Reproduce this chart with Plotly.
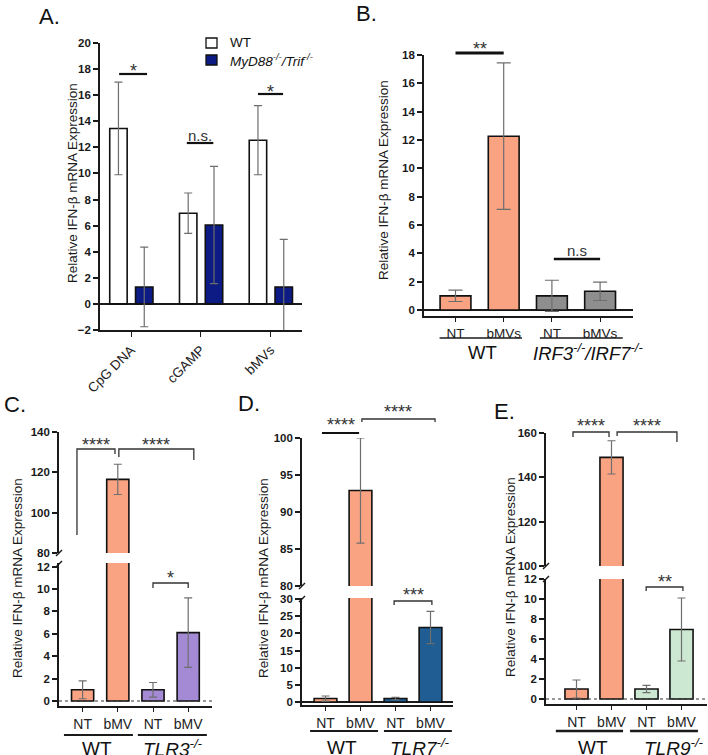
import plotly.graph_objects as go

# ---------------- data ----------------
A_categories = ["CpG DNA", "cGAMP", "bMVs"]
A_series = ["WT", "<i>MyD88<sup>-/-</sup>/Trif<sup>-/-</sup></i>"]
A_wt = [13.45, 6.95, 12.55]
A_wt_err = [3.55, 1.55, 2.65]
A_ko = [1.3, 6.05, 1.3]
A_ko_err = [3.05, 4.5, 3.65]
A_sig = ["*", "n.s.", "*"]

B_labels = ["NT", "bMVs", "NT", "bMVs"]
B_groups = ["WT", "<i>IRF3<sup>-/-</sup>/IRF7<sup>-/-</sup></i>"]
B_values = [1.0, 12.27, 1.0, 1.32]
B_err = [0.4, 5.17, 1.1, 0.65]
B_sig = ["**", "n.s"]

C_labels = ["NT", "bMV", "NT", "bMV"]
C_groups = ["WT", "<i>TLR3<sup>-/-</sup></i>"]
C_values = [1.0, 116.5, 1.0, 6.1]
C_err = [0.8, 7.5, 0.65, 3.1]
C_sig = ["****", "****", "*"]

D_labels = ["NT", "bMV", "NT", "bMV"]
D_groups = ["WT", "<i>TLR7<sup>-/-</sup></i>"]
D_values = [1.0, 92.9, 1.0, 21.7]
D_err = [0.75, 7.1, 0.35, 4.7]
D_sig = ["****", "****", "***"]

E_labels = ["NT", "bMV", "NT", "bMV"]
E_groups = ["WT", "<i>TLR9<sup>-/-</sup></i>"]
E_values = [1.0, 149.0, 1.0, 6.95]
E_err = [0.9, 7.5, 0.37, 3.15]
E_sig = ["****", "****", "**"]

YTITLE = "Relative IFN-β mRNA Expression"

# ---------------- style ----------------
W, H = 708, 755
FONT = "Liberation Sans, Arial, sans-serif"
LINE = "#1a1a1a"
ERR = "#6e6e6e"
ORANGE = "#F9A382"
NAVY = "#0D1B85"
GRAY = "#8E8E8E"
PURPLE = "#A48AD4"
BLUE = "#1F5D92"
GREEN = "#CDE8D2"
STAR = 18
STAR_SHIFT = 0.08 * STAR

layout = dict(width=W, height=H, margin=dict(l=0, r=0, t=0, b=0, pad=0),
              paper_bgcolor="white", plot_bgcolor="white",
              showlegend=False, barmode="overlay", autosize=False,
              font=dict(family=FONT, color=LINE))
shapes, annots, traces = [], [], []


def ax_key(ref):
    return ref[0] + "axis" + ref[1:]


def pxy(y):
    return 1 - y / H


def make_x(ref, yanchor, l, r, c0, step, ticktext, angle=0, ticklen=4,
           size=14):
    layout[ax_key(ref)] = dict(
        domain=[l / W, r / W], range=[(l - c0) / step, (r - c0) / step],
        anchor=yanchor, showline=True, linecolor=LINE, linewidth=1.6,
        ticks="outside", ticklen=ticklen, tickwidth=1.3, tickcolor=LINE,
        tickvals=list(range(len(ticktext))), ticktext=ticktext,
        tickangle=angle, tickfont=dict(family=FONT, size=size, color="#222"),
        showgrid=False, zeroline=False, fixedrange=True, automargin=False)


def make_y(ref, xanchor, b, t, lo, hi, dtick, zeroline=False):
    layout[ax_key(ref)] = dict(
        domain=[pxy(b), pxy(t)], range=[lo, hi], anchor=xanchor,
        tick0=0, dtick=dtick, showline=True, linecolor=LINE, linewidth=1.6,
        ticks="outside", ticklen=5, tickwidth=1.5, tickcolor=LINE,
        tickfont=dict(family=FONT, size=11.5, color=LINE, weight="bold"),
        showgrid=False, zeroline=zeroline, zerolinecolor=LINE,
        zerolinewidth=1.5, fixedrange=True, automargin=False)


def bar(xref, yref, values, err, colors, width, cap, offset=None):
    return go.Bar(x=list(range(len(values))), y=values, width=width,
                  offset=offset,
                  marker=dict(color=colors, line=dict(color="#111", width=1.6)),
                  error_y=dict(type="data", array=err, color=ERR,
                               thickness=1.2, width=cap),
                  xaxis=xref, yaxis=yref, showlegend=False, hoverinfo="skip")


def bracket(xref, x0, x1, top, leg0, leg1, text, glyph_y, lw=1.3,
            color="#333"):
    star = text.strip("*") == ""
    size = STAR if star else 15
    ty = glyph_y + (STAR_SHIFT if star else 0)
    shapes.append(dict(type="path", xref=xref, yref="paper",
                       path=f"M {x0},{pxy(leg0)} L {x0},{pxy(top)} "
                            f"L {x1},{pxy(top)} L {x1},{pxy(leg1)}",
                       line=dict(color=color, width=lw)))
    annots.append(dict(text=text, x=(x0 + x1) / 2, xref=xref, y=pxy(ty),
                       yref="paper", showarrow=False, xanchor="center",
                       yanchor="middle",
                       font=dict(family=FONT, size=size, color="#333")))


def ytitle(x, y):
    annots.append(dict(text=YTITLE, x=x / W, y=pxy(y), xref="paper",
                       yref="paper", showarrow=False, textangle=-90,
                       xanchor="center", yanchor="middle",
                       font=dict(family=FONT, size=13.5, color=LINE)))


def panel_label(text, x, y):
    annots.append(dict(text=text, x=x / W, y=pxy(y), xref="paper",
                       yref="paper", showarrow=False, xanchor="left",
                       yanchor="middle",
                       font=dict(family=FONT, size=22, color="#111")))


def groups(xref, names, spans, centers, uy, ly, lw=1.3, size=19):
    for (a, b), c, name in zip(spans, centers, names):
        shapes.append(dict(type="line", xref=xref, yref="paper", x0=a, x1=b,
                           y0=pxy(uy), y1=pxy(uy),
                           line=dict(color=LINE, width=lw)))
        annots.append(dict(text=name, x=c, xref=xref, y=pxy(ly),
                           yref="paper", showarrow=False, xanchor="center",
                           yanchor="middle",
                           font=dict(family=FONT, size=size, color="#111")))


def break_marks(axx, ys):
    for y in ys:
        shapes.append(dict(type="line", xref="paper", yref="paper",
                           x0=(axx - 3) / W, x1=(axx + 3) / W,
                           y0=pxy(y + 3), y1=pxy(y - 3),
                           line=dict(color=LINE, width=1.5)))


def zero_dotted(xref, yref):
    shapes.append(dict(type="line", xref=xref + " domain", yref=yref,
                       x0=0, x1=1, y0=0, y1=0,
                       line=dict(color="#333", width=1, dash="dot")))


# ---------------- Panel A ----------------
make_x("x", "y", 100, 302, 131, 69.75, A_categories, angle=-45, ticklen=5,
       size=13.5)
make_y("y", "x", 330, 43, -2, 20, 2, zeroline=True)
traces.append(bar("x", "y", A_wt, A_wt_err, "white", 0.25, 4, offset=-0.305))
traces.append(bar("x", "y", A_ko, A_ko_err, NAVY, 0.25, 4, offset=0.065))
for (x0, x1, y, gy), s in zip([(-0.17, 0.23, 74, 70), (0.80, 1.18, 143, 135),
                               (1.82, 2.18, 94, 90.5)], A_sig):
    bracket("x", x0, x1, y, y, y, s, gy, lw=2.2, color="#111")
for i, (name, col) in enumerate(zip(A_series, ["white", NAVY])):
    yb = 38 + i * 17
    shapes.append(dict(type="rect", xref="paper", yref="paper",
                       x0=206 / W, x1=217 / W, y0=pxy(yb + 10), y1=pxy(yb),
                       fillcolor=col, line=dict(color="#111", width=1.3)))
    annots.append(dict(text=name, x=228 / W, y=pxy(yb + 5), xref="paper",
                       yref="paper", showarrow=False, xanchor="left",
                       yanchor="middle",
                       font=dict(family=FONT, size=13.5, color="#111")))
ytitle(72, 183)
panel_label("A.", 37, 16)

# ---------------- Panel B ----------------
make_x("x2", "y2", 424, 633, 455.5, 48.2, B_labels, size=13.5)
make_y("y2", "x2", 316, 55, -0.4235, 18, 2, zeroline=True)
traces.append(bar("x2", "y2", B_values, B_err,
                  [ORANGE, ORANGE, GRAY, GRAY], 0.64, 7))
bracket("x2", 0.0, 1.0, 53, 53, 53, B_sig[0], 48, lw=3, color="#111")
bracket("x2", 2.04, 3.0, 259, 259, 259, B_sig[1], 250, lw=2.4,
        color="#111")
groups("x2", B_groups, [(-0.33, 1.38), (1.75, 3.47)], [0.55, 2.75], 338, 352,
       size=18.5)
ytitle(383, 180)
panel_label("B.", 354, 13)

# ---------------- Panel C ----------------
make_x("x3", "y3", 59, 212, 82.6, 35.2, C_labels)
make_y("y3", "x3", 706, 563, -0.446, 12.32, 2)
make_y("y4", "x3", 553, 432, 80, 140, 20)
cols = [ORANGE, ORANGE, PURPLE, PURPLE]
traces.append(bar("x3", "y3", C_values, C_err, cols, 0.63, 4))
traces.append(bar("x3", "y4", C_values, C_err, cols, 0.63, 4))
zero_dotted("x3", "y3")
break_marks(59, [553, 564])
bracket("x3", -0.16, 0.92, 449, 535, 454, C_sig[0], 444)
bracket("x3", 1.03, 3.16, 449, 457, 460, C_sig[1], 444)
bracket("x3", 2.0, 3.0, 583, 588, 588, C_sig[2], 576.5)
groups("x3", C_groups, [(-0.53, 1.43), (1.57, 3.53)], [0.42, 2.57], 735,
       748, lw=2)
ytitle(17, 578)
panel_label("C.", 2, 404)

# ---------------- Panel D ----------------
make_x("x4", "y5", 302, 453, 325.5, 35, D_labels)
make_y("y5", "x4", 705, 598, -0.874, 30.29, 5, zeroline=True)
make_y("y6", "x4", 586, 438, 80, 100, 5)
cols = [ORANGE, ORANGE, BLUE, BLUE]
traces.append(bar("x4", "y5", D_values, D_err, cols, 0.65, 4))
traces.append(bar("x4", "y6", D_values, D_err, cols, 0.65, 4))
break_marks(302, [586, 599])
bracket("x4", -0.1, 0.96, 433, 433, 433, D_sig[0], 424, lw=2.2,
        color="#111")
bracket("x4", 1.04, 3.13, 419, 422, 422, D_sig[1], 411)
bracket("x4", 1.96, 3.04, 601, 605, 605, D_sig[2], 594)
groups("x4", D_groups, [(-0.44, 1.5), (1.67, 3.61)], [0.47, 2.69], 731, 747,
       lw=2)
ytitle(263, 578)
panel_label("D.", 236, 403)

# ---------------- Panel E ----------------
make_x("x5", "y7", 546, 707, 576.5, 35, E_labels)
make_y("y7", "x5", 704, 579, -0.5, 12, 2)
make_y("y8", "x5", 566, 433, 100, 160, 20)
cols = [ORANGE, ORANGE, GREEN, GREEN]
traces.append(bar("x5", "y7", E_values, E_err, cols, 0.66, 4))
traces.append(bar("x5", "y8", E_values, E_err, cols, 0.66, 4))
zero_dotted("x5", "y7")
break_marks(546, [566, 579])
bracket("x5", -0.1, 0.93, 432, 437, 437, E_sig[0], 424.5)
bracket("x5", 1.16, 2.87, 432, 436, 442, E_sig[1], 424.5)
bracket("x5", 1.99, 3.04, 587, 591, 591, E_sig[2], 581)
groups("x5", E_groups, [(-0.59, 1.33), (1.53, 3.47)], [0.47, 2.79], 731,
       747, lw=2.6)
ytitle(510, 577)
panel_label("E.", 492, 411)

layout["shapes"] = shapes
layout["annotations"] = annots
fig = go.Figure(data=traces, layout=layout)
fig.write_html("out.html", config={"displayModeBar": False},
               post_script="document.body.style.margin='0px';"
                           "document.body.style.overflow='hidden';")
